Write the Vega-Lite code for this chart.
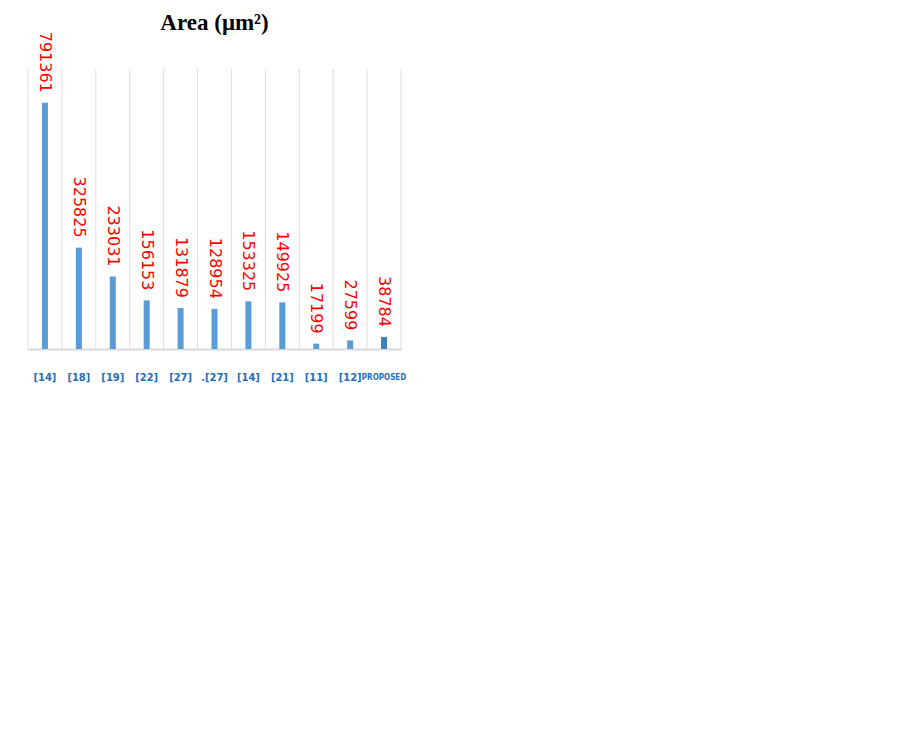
{
  "$schema": "https://vega.github.io/schema/vega-lite/v6.json",
  "autosize": {"type": "none"},
  "padding": {"left": 28, "top": 69, "right": 500, "bottom": 399},
  "width": 373,
  "height": 280,
  "background": "white",
  "title": {
    "text": "Area (μm²)",
    "font": "Liberation Serif",
    "fontSize": 23,
    "fontWeight": "bold",
    "color": "#000000",
    "anchor": "middle",
    "offset": -3
  },
  "data": {
    "values": [
      {"ref": "[14]", "area": 791361, "kind": "other"},
      {"ref": "[18]", "area": 325825, "kind": "other"},
      {"ref": "[19]", "area": 233031, "kind": "other"},
      {"ref": "[22]", "area": 156153, "kind": "other"},
      {"ref": "[27]", "area": 131879, "kind": "other"},
      {"ref": ".[27]", "area": 128954, "kind": "other"},
      {"ref": "[14] ", "area": 153325, "kind": "other"},
      {"ref": "[21]", "area": 149925, "kind": "other"},
      {"ref": "[11]", "area": 17199, "kind": "other"},
      {"ref": "[12]", "area": 27599, "kind": "other"},
      {"ref": "PROPOSED", "area": 38784, "kind": "proposed"}
    ]
  },
  "config": {"view": {"stroke": null}},
  "encoding": {
    "x": {
      "field": "ref",
      "type": "nominal",
      "sort": null,
      "scale": {"paddingInner": 0, "paddingOuter": 0},
      "axis": {
        "title": null,
        "labelAngle": 0,
        "labelFont": "DejaVu Sans Condensed",
        "labelFontWeight": "bold",
        "labelFontSize": {"condition": {"test": "datum.value == 'PROPOSED'", "value": 8}, "value": 11},
        "labelColor": "#1f6fc0",
        "labelBaseline": "middle",
        "labelPadding": 28,
        "labelOverlap": false,
        "labelBound": false,
        "ticks": false,
        "domainColor": "#d9d9d9",
        "domainWidth": 2,
        "grid": false
      }
    }
  },
  "layer": [
    {
      "mark": {"type": "rule", "color": "#dedede", "strokeWidth": 1},
      "encoding": {
        "x": {"field": "ref", "type": "nominal", "sort": null, "bandPosition": 0}
      }
    },
    {
      "transform": [{"filter": "datum.kind == 'proposed'"}],
      "mark": {"type": "rule", "color": "#dedede", "strokeWidth": 1},
      "encoding": {
        "x": {"field": "ref", "type": "nominal", "sort": null, "bandPosition": 1}
      }
    },
    {
      "mark": {"type": "bar", "size": 6},
      "encoding": {
        "y": {
          "field": "area",
          "type": "quantitative",
          "scale": {"domain": [0, 900000], "nice": false},
          "axis": null
        },
        "color": {
          "field": "kind",
          "type": "nominal",
          "scale": {"domain": ["other", "proposed"], "range": ["#5b9bd5", "#4180bf"]},
          "legend": null
        }
      }
    },
    {
      "mark": {
        "type": "text",
        "angle": 90,
        "align": "right",
        "baseline": "middle",
        "yOffset": -10,
        "font": "DejaVu Sans",
        "fontSize": 16,
        "color": "#ff0000"
      },
      "encoding": {
        "y": {"field": "area", "type": "quantitative"},
        "text": {"field": "area", "type": "quantitative", "format": "d"}
      }
    }
  ]
}
